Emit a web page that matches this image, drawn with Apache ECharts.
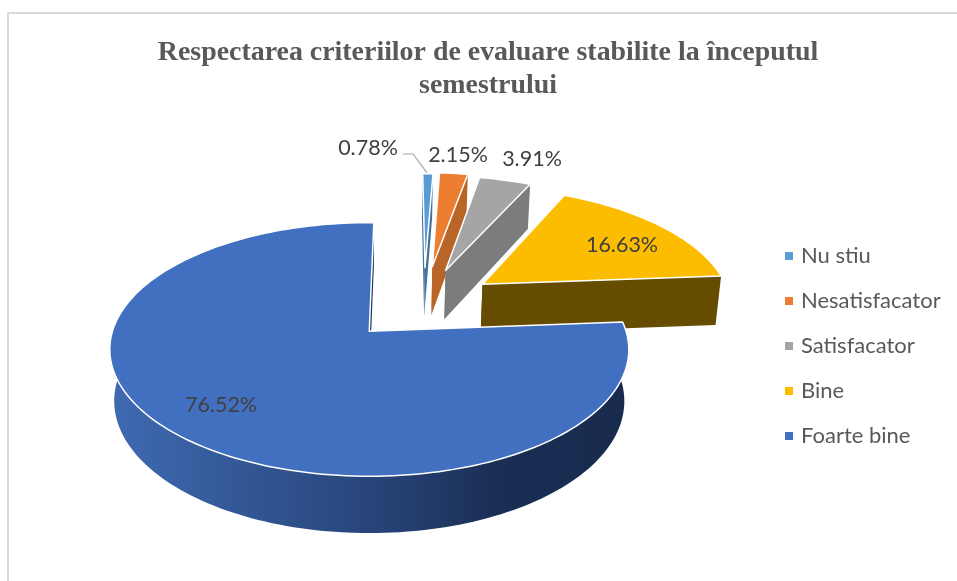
<!DOCTYPE html>
<html>
<head>
<meta charset="utf-8">
<style>
  html, body { margin: 0; padding: 0; background: #fff; }
  #chart { width: 957px; height: 581px; }
</style>
<script src="https://cdn.jsdelivr.net/npm/echarts@6/dist/echarts.min.js"></script>
</head>
<body>
<div id="chart"></div>
<script>
// chart data
var categories = ['Nu stiu', 'Nesatisfacator', 'Satisfacator', 'Bine', 'Foarte bine'];
var percents = [0.78, 2.15, 3.91, 16.63, 76.52];

// look of each slice
var topColors = ['#5B9BD5', '#ED7D31', '#A5A5A5', '#FCBD00', '#4170C1'];
var wallColors = ['#41719C', '#B96528', '#7C7C7C', '#664C00', '#1F3864'];
var explode = [0.32, 0.335, 0.31, 0.298, 0.32];
var labelPos = [[368, 148], [458, 155], [532, 159], [622, 245], [221, 405]];

// fake 3D: disc coords (u right, v to viewer, z down) -> screen, with perspective
var originX = 368, originY = 328.5, radius = 256, tilt = 123.4, depth = 52;
var persp = 0.143, perspDown = 0.017;
var pieU = 0.225, pieV = -0.21, startAngle = 1.2;

function project(u, v, z) {
    var s = 1 / (1 - persp * v + perspDown * z);
    return [originX + radius * u * s, originY + (tilt * v + depth * z) * s];
}

// slice angles from the values, clockwise from the top
var total = percents.reduce(function (a, b) { return a + b; }, 0);
var angles = [];
percents.reduce(function (acc, p) {
    var end = acc + p / total * 360;
    angles.push([acc, end]);
    return end;
}, startAngle);

function rad(d) { return d * Math.PI / 180; }

function arcPoints(i, z) {
    var a = angles[i];
    var mid = rad((a[0] + a[1]) / 2);
    var au = pieU + explode[i] * Math.sin(mid);
    var av = pieV - explode[i] * Math.cos(mid);
    var steps = Math.max(4, Math.round((a[1] - a[0]) / 1.5));
    var pts = [];
    for (var k = 0; k <= steps; k++) {
        var t = rad(a[0] + (a[1] - a[0]) * k / steps);
        pts.push(project(au + Math.sin(t), av - Math.cos(t), z));
    }
    return { apex: project(au, av, z), pts: pts };
}

function renderSlice(params) {
    var i = params.seriesIndex;
    var top = arcPoints(i, 0);
    var bottom = arcPoints(i, 1);
    var last = top.pts.length - 1;
    var children = [];

    // radial walls, the one at the start and the one at the end of the slice
    var wallStart = [top.apex, top.pts[0], bottom.pts[0], bottom.apex];
    var wallEnd = [top.apex, top.pts[last], bottom.pts[last], bottom.apex];
    [wallStart, wallEnd].forEach(function (w) {
        children.push({ type: 'polygon', shape: { points: w }, style: { fill: wallColors[i] } });
    });

    // curved outside wall, only the big slice shows it
    if (angles[i][1] > 180) {
        children.push({
            type: 'polygon',
            shape: { points: top.pts.concat(bottom.pts.slice().reverse()) },
            style: {
                fill: new echarts.graphic.LinearGradient(0, 0, 1, 0, [
                    { offset: 0, color: '#3F6AB2' },
                    { offset: 0.5, color: '#28457A' },
                    { offset: 0.75, color: '#1A2E54' },
                    { offset: 1, color: '#182B4E' }
                ])
            }
        });
    }

    children.push({
        type: 'polygon',
        shape: { points: [top.apex].concat(top.pts) },
        style: { fill: topColors[i], stroke: '#fff', lineWidth: 1.5, lineJoin: 'round' }
    });

    // leader line of the smallest slice
    if (i === 0) {
        var m = top.pts[Math.round(last / 2)];
        children.push({
            type: 'polyline',
            shape: { points: [[403, 154], [413, 154], [m[0] - 1, m[1] - 1]] },
            style: { stroke: '#A6A6A6', lineWidth: 1.2, fill: null }
        });
    }

    children.push({
        type: 'text',
        style: {
            text: percents[i].toFixed(2) + '%',
            x: labelPos[i][0], y: labelPos[i][1],
            fill: '#404040',
            font: '21.5px Lato',
            align: 'center', verticalAlign: 'middle'
        }
    });
    return { type: 'group', children: children };
}

var chart = echarts.init(document.getElementById('chart'));
chart.setOption({
    animation: false,
    backgroundColor: '#fff',
    title: {
        text: 'Respectarea criteriilor de evaluare stabilite la începutul\nsemestrului',
        left: 483, top: 31, textAlign: 'center',
        textStyle: {
            fontFamily: 'Liberation Serif', fontWeight: 'bold',
            fontSize: 27.9, lineHeight: 33, color: '#595959'
        }
    },
    legend: {
        orient: 'vertical',
        left: 780, top: 239,
        icon: 'rect', itemWidth: 8, itemHeight: 8, itemGap: 21,
        data: categories,
        selectedMode: false,
        textStyle: { fontFamily: 'Lato', fontSize: 22, color: '#595959', height: 24, lineHeight: 24, padding: [0, 0, 0, 3] }
    },
    graphic: [{
        type: 'polyline',
        silent: true,
        shape: { points: [[8, 600], [8, 13], [957, 13]] },
        style: { stroke: '#D9D9D9', lineWidth: 2, fill: null }
    }],
    series: categories.map(function (name, i) {
        return {
            type: 'custom',
            name: name,
            coordinateSystem: 'none',
            silent: true,
            itemStyle: { color: topColors[i] },
            renderItem: renderSlice,
            data: [percents[i]]
        };
    })
});
</script>
</body>
</html>
